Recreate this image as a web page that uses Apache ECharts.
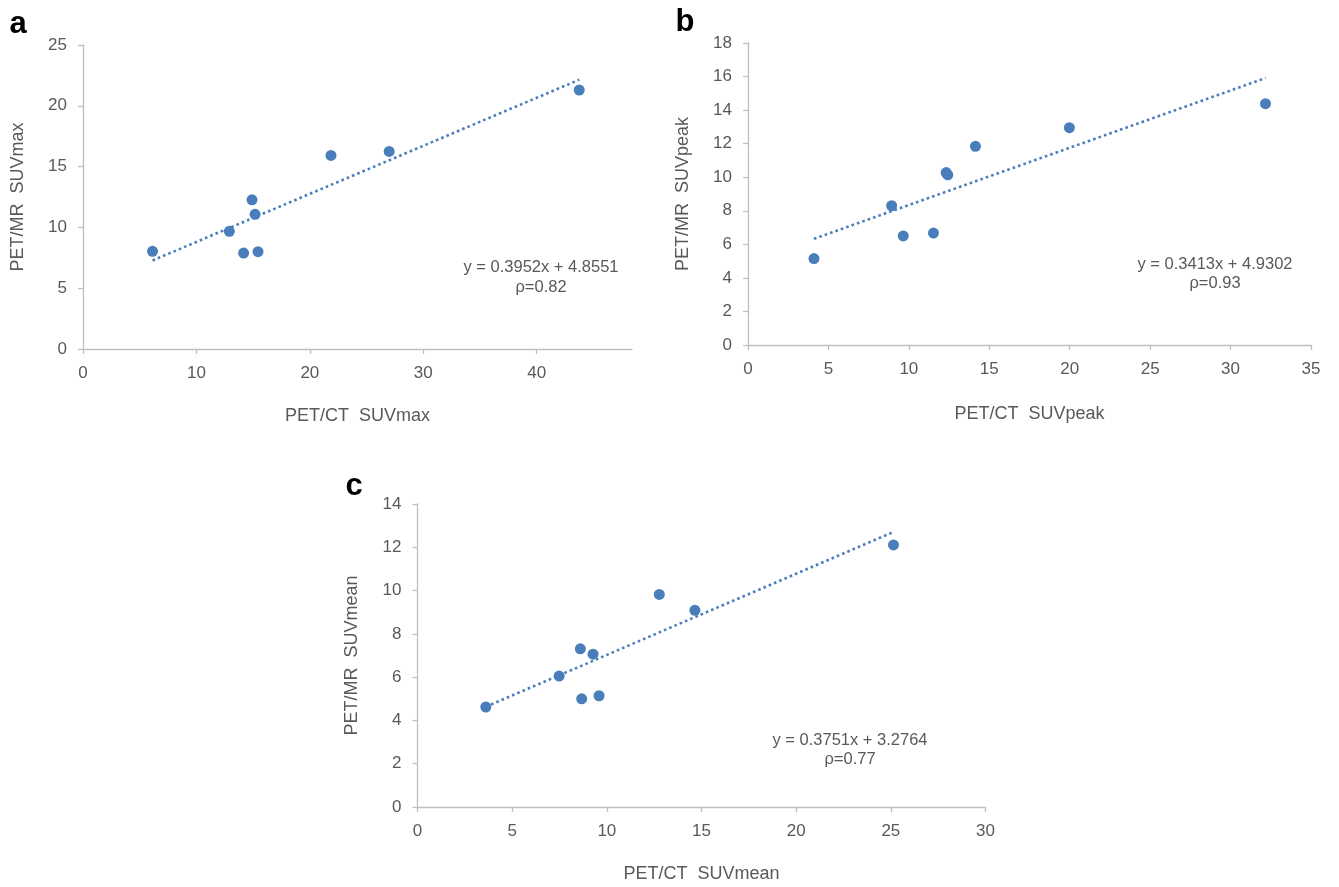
<!DOCTYPE html>
<html><head><meta charset="utf-8">
<script src="https://cdn.jsdelivr.net/npm/echarts@6/dist/echarts.min.js"></script>
<style>html,body{margin:0;padding:0;background:#fff}#chart{width:1339px;height:887px}</style>
</head><body><div id="chart"></div>
<script>
// Panel a: SUVmax
const aX = [6.13, 12.9, 14.16, 14.9, 15.17, 15.43, 21.86, 26.99, 43.75];
const aY = [8.03, 9.68, 7.89, 12.27, 11.08, 8.0, 15.92, 16.25, 21.29];
const aFit = [0.3952, 4.8551];
const aEq = ['y = 0.3952x + 4.8551', 'ρ=0.82'];
// Panel b: SUVpeak
const bX = [4.10, 8.93, 9.65, 11.53, 12.32, 12.42, 14.14, 19.98, 32.17];
const bY = [5.15, 8.30, 6.50, 6.67, 10.28, 10.14, 11.84, 12.95, 14.38];
const bFit = [0.3413, 4.9302];
const bEq = ['y = 0.3413x + 4.9302', 'ρ=0.93'];
// Panel c: SUVmean
const cX = [3.61, 7.48, 8.60, 8.67, 9.27, 9.59, 12.77, 14.65, 25.14];
const cY = [4.62, 6.05, 7.31, 5.0, 7.06, 5.14, 9.82, 9.09, 12.11];
const cFit = [0.3751, 3.2764];
const cEq = ['y = 0.3751x + 3.2764', 'ρ=0.77'];

const xTitles = ['PET/CT  SUVmax', 'PET/CT  SUVpeak', 'PET/CT  SUVmean'];
const yTitles = ['PET/MR  SUVmax', 'PET/MR  SUVpeak', 'PET/MR  SUVmean'];
const panelLetters = ['a', 'b', 'c'];
const aXTicks = [0, 10, 20, 30, 40];

const FONT = '"Liberation Sans", Arial, sans-serif';
const GRAY = '#595959';
const AXIS = '#bfbfbf';
const BLUE = '#4a7ebb';

const grids = [
  {left: 83, top: 45, width: 549, height: 304},
  {left: 748, top: 43, width: 563, height: 302},
  {left: 417.5, top: 504, width: 568, height: 303}
];

function pts(xs, ys) { return xs.map((x, i) => [x, ys[i]]); }
function fitLine(xs, fit) {
  const lo = Math.min(...xs), hi = Math.max(...xs);
  return [[lo, fit[0] * lo + fit[1]], [hi, fit[0] * hi + fit[1]]];
}
function axisBase() {
  return {
    type: 'value',
    splitLine: {show: false},
    axisLine: {show: true, lineStyle: {color: AXIS, width: 1.3}},
    axisTick: {show: true, inside: false, length: 5, lineStyle: {color: AXIS, width: 1.3}},
    axisLabel: {color: GRAY, fontSize: 17, fontFamily: FONT, margin: 16},
    nameLocation: 'middle',
    nameTextStyle: {color: GRAY, fontSize: 18, fontFamily: FONT}
  };
}
const xAxes = [
  Object.assign(axisBase(), {gridIndex: 0, min: 0, max: 48.4, name: xTitles[0], nameGap: 58}),
  Object.assign(axisBase(), {gridIndex: 1, min: 0, max: 35, interval: 5, name: xTitles[1], nameGap: 60}),
  Object.assign(axisBase(), {gridIndex: 2, min: 0, max: 30, interval: 5, name: xTitles[2], nameGap: 58})
];
xAxes[0].axisLabel = Object.assign({}, xAxes[0].axisLabel, {customValues: aXTicks});
xAxes[0].axisTick = Object.assign({}, xAxes[0].axisTick, {customValues: aXTicks});
const yAxes = [
  Object.assign(axisBase(), {gridIndex: 0, min: 0, max: 25, interval: 5, name: yTitles[0], nameGap: 56}),
  Object.assign(axisBase(), {gridIndex: 1, min: 0, max: 18, interval: 2, name: yTitles[1], nameGap: 56}),
  Object.assign(axisBase(), {gridIndex: 2, min: 0, max: 14, interval: 2, name: yTitles[2], nameGap: 56})
];

const sets = [[aX, aY, aFit], [bX, bY, bFit], [cX, cY, cFit]];
const series = [];
sets.forEach((s, i) => {
  series.push({
    type: 'scatter', xAxisIndex: i, yAxisIndex: i, data: pts(s[0], s[1]),
    symbol: 'circle', symbolSize: 11, itemStyle: {color: BLUE, opacity: 1}, z: 2
  });
  series.push({
    type: 'line', xAxisIndex: i, yAxisIndex: i, data: fitLine(s[0], s[2]),
    showSymbol: false, symbol: 'none', silent: true, z: 3,
    lineStyle: {color: BLUE, width: 2.6, type: [2.6, 3.1], cap: 'butt', opacity: 1}
  });
});

const eqPos = [[541, 267, 287], [1215, 264, 283], [850, 740, 759]];
const eqs = [aEq, bEq, cEq];
const letterPos = [[18, 24], [685, 22], [354, 486]];
const graphic = [];
eqs.forEach((e, i) => {
  graphic.push({type: 'text', x: eqPos[i][0], y: eqPos[i][1],
    style: {text: e[0], fill: GRAY, font: '16.5px ' + FONT, textAlign: 'center', textVerticalAlign: 'middle'}});
  graphic.push({type: 'text', x: eqPos[i][0], y: eqPos[i][2],
    style: {text: e[1], fill: GRAY, font: '16.5px ' + FONT, textAlign: 'center', textVerticalAlign: 'middle'}});
});
panelLetters.forEach((l, i) => {
  graphic.push({type: 'text', x: letterPos[i][0], y: letterPos[i][1],
    style: {text: l, fill: '#000', font: 'bold 31px ' + FONT, textAlign: 'center', textVerticalAlign: 'middle'}});
});

const chart = echarts.init(document.getElementById('chart'), null, {renderer: 'canvas'});
chart.setOption({
  animation: false,
  backgroundColor: '#fff',
  grid: grids,
  xAxis: xAxes,
  yAxis: yAxes,
  series: series,
  graphic: graphic
});
</script></body></html>
